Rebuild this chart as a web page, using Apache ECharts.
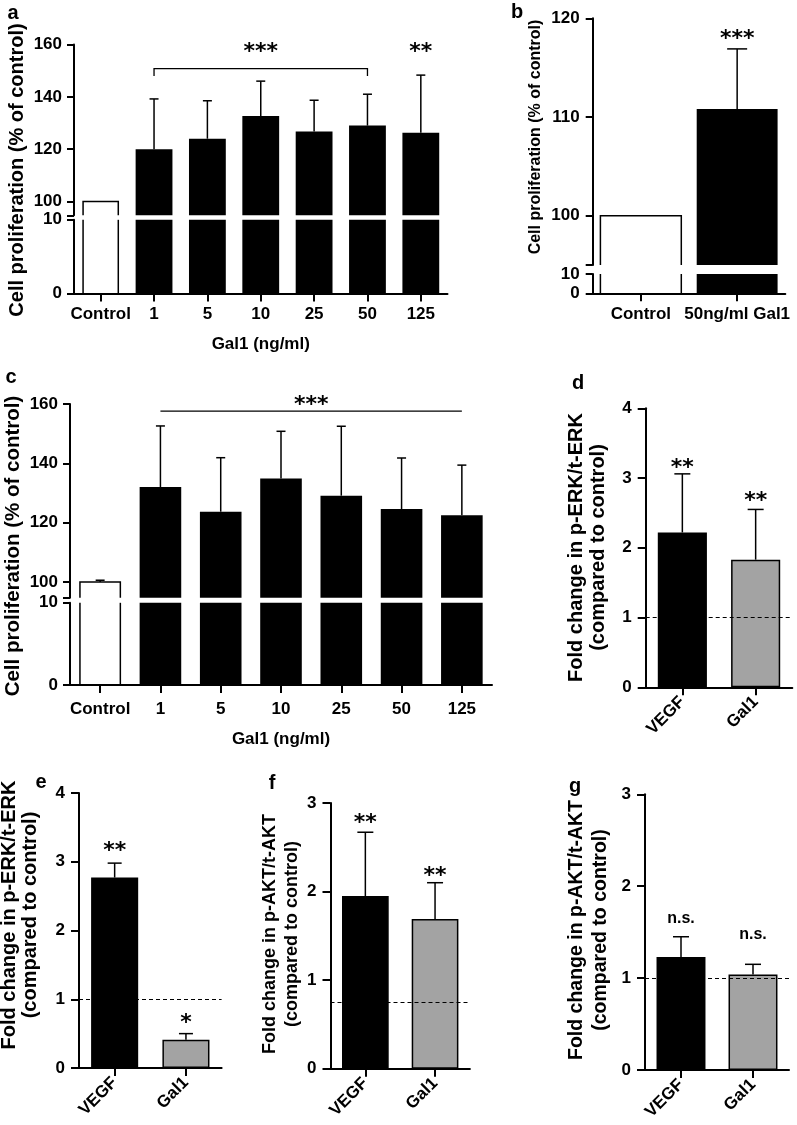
<!DOCTYPE html>
<html><head><meta charset="utf-8">
<script src="https://cdn.jsdelivr.net/npm/echarts@6/dist/echarts.min.js"></script>
<style>html,body{margin:0;padding:0;background:#fff}#c{width:797px;height:1125px}</style>
</head><body><div id="c"></div>
<script>
// ---------------- data ----------------
const doseCats = ['Control', '1', '5', '10', '25', '50', '125'];
const aMean = [100, 120.0, 124.0, 132.7, 126.8, 129.0, 126.3];
const aSem  = [0, 19.2, 14.5, 13.3, 11.9, 12.0, 22.0];
const bCats = ['Control', '50ng/ml Gal1'];
const bMean = [100, 110.8];
const bSem  = [0, 6.1];
const cMean = [100, 132.0, 123.7, 134.9, 129.1, 124.6, 122.5];
const cSem  = [0.6, 20.6, 18.2, 15.9, 23.4, 17.2, 16.9];
const fcCats = ['VEGF', 'Gal1'];
const dMean = [2.22, 1.83]; const dSem = [0.84, 0.72];
const eMean = [2.77, 0.41]; const eSem = [0.21, 0.09];
const fMean = [1.95, 1.69]; const fSem = [0.72, 0.41];
const gMean = [1.23, 1.04]; const gSem = [0.22, 0.11];
const dRef = 1, eRef = 1, fRef = 0.75, gRef = 1;
// tick labels
const aUpperTicks = [100, 120, 140, 160];
const bUpperTicks = [100, 110, 120];
const lowerTicks = [0, 10];
// significance annotations
const aBracket = [1, 5, 150.8, 158.7];      // from cat, to cat, bracket level, label level
const aBracketText = '***';
const aSigCats = [6], aSigY = [158.5], aSigText = ['**'];
const bSigCats = [1], bSigY = [118.3], bSigText = ['***'];
const cBracket = [1, 6, 157.6, 161.0];
const cBracketText = '***';
const dSigCats = [0, 1], dSigY = [3.20, 2.72], dSigText = ['**', '**'];
const eSigCats = [0, 1], eSigY = [3.21, 0.71], eSigText = ['**', '*'];
const fSigCats = [0, 1], fSigY = [2.82, 2.22], fSigText = ['**', '**'];
const gSigCats = [0, 1], gSigY = [1.65, 1.47], gSigText = ['n.s.', 'n.s.'];

// ---------------- style helpers ----------------
const FONT = '"Liberation Sans", Arial, Helvetica, sans-serif';
const STAR_FONT = 'bold 22px "DejaVu Sans", "Liberation Sans", sans-serif';
const NS_FONT = 'bold 16px ' + FONT;
const STAR_DY = 4;
const GRAY = '#a3a3a3';
const LW = 2;

const grids = [
  {left: 74, top: 44.5, width: 373.5, height: 170.8},     // 0 a upper
  {left: 74, top: 219.8, width: 373.5, height: 73.7},     // 1 a lower
  {left: 592.7, top: 18.3, width: 192.6, height: 246.75}, // 2 b upper
  {left: 592.7, top: 274, width: 192.6, height: 19.3},    // 3 b lower
  {left: 70, top: 404, width: 422, height: 193.7},        // 4 c upper
  {left: 70, top: 602.8, width: 422, height: 82.2},       // 5 c lower
  {left: 645.7, top: 408.3, width: 146.6, height: 279},   // 6 d
  {left: 79, top: 793, width: 142.6, height: 275},        // 7 e
  {left: 330.5, top: 803, width: 139.4, height: 265.7},   // 8 f
  {left: 645, top: 794.3, width: 144, height: 275.7}      // 9 g
].map(g => Object.assign({containLabel: false}, g));

const lbl = (extra) => Object.assign({color: '#000', fontFamily: FONT, fontWeight: 'bold', fontSize: 17}, extra || {});

function xHidden(gi, cats) {
  return {type: 'category', gridIndex: gi, data: cats, boundaryGap: true, show: false};
}
function xShown(gi, cats, extra) {
  return Object.assign({
    type: 'category', gridIndex: gi, data: cats, boundaryGap: true,
    axisLine: {show: true, lineStyle: {color: '#000', width: LW}},
    axisTick: {show: true, alignWithLabel: true, length: 8, lineStyle: {color: '#000', width: LW}},
    axisLabel: lbl({margin: 12, interval: 0}),
    splitLine: {show: false}
  }, extra || {});
}
function yUpper(gi, min, max, ticks, margin) {
  return {
    type: 'value', gridIndex: gi, min: min, max: max,
    axisLine: {show: true, lineStyle: {color: '#000', width: LW}},
    axisTick: {show: true, length: 7, lineStyle: {color: '#000', width: LW}, customValues: [min].concat(ticks)},
    axisLabel: lbl({margin: margin, customValues: ticks}),
    splitLine: {show: false}
  };
}
function yLower(gi, margin) {
  return {
    type: 'value', gridIndex: gi, min: lowerTicks[0], max: lowerTicks[1], interval: lowerTicks[1],
    axisLine: {show: true, lineStyle: {color: '#000', width: LW}},
    axisTick: {show: true, length: 7, lineStyle: {color: '#000', width: LW}},
    axisLabel: lbl({margin: margin}),
    splitLine: {show: false}
  };
}
function yFold(gi, max) {
  return {
    type: 'value', gridIndex: gi, min: 0, max: max, interval: 1,
    axisLine: {show: true, lineStyle: {color: '#000', width: LW}},
    axisTick: {show: true, length: 8, lineStyle: {color: '#000', width: LW}},
    axisLabel: lbl({margin: 14}),
    splitLine: {show: false}
  };
}

// black bars (control excluded)
function blackBars(ai, cats, mean, width) {
  return {
    type: 'bar', xAxisIndex: ai, yAxisIndex: ai, barWidth: width, silent: true, z: 2,
    data: mean.map((v, i) => cats[i] === 'Control' ? '-' : v),
    itemStyle: {color: '#000'}
  };
}
// open white bar outline for the control (through the library scale)
function outlineBar(ai, cats, mean, ratio) {
  const data = [];
  cats.forEach((c, i) => { if (c === 'Control') data.push([i, mean[i]]); });
  return {
    type: 'custom', xAxisIndex: ai, yAxisIndex: ai, z: 3, silent: true, data: data,
    renderItem: (params, api) => {
      const cs = params.coordSys;
      const p = api.coord([api.value(0), api.value(1)]);
      const bw = api.size([1, 0])[0] * ratio;
      const x0 = p[0] - bw / 2, x1 = p[0] + bw / 2;
      const base = cs.y + cs.height;
      const style = {stroke: '#000', lineWidth: 1.5, fill: null};
      if (p[1] < cs.y) {
        return {type: 'group', children: [
          {type: 'line', shape: {x1: x0, y1: base, x2: x0, y2: cs.y}, style: style},
          {type: 'line', shape: {x1: x1, y1: base, x2: x1, y2: cs.y}, style: style}
        ]};
      }
      return {type: 'polyline', shape: {points: [[x0, base], [x0, p[1]], [x1, p[1]], [x1, base]]}, style: style};
    }
  };
}
function errBars(ai, mean, sem, capW) {
  const data = [];
  mean.forEach((v, i) => { if (sem[i] > 0) data.push([i, v, sem[i]]); });
  return {
    type: 'custom', xAxisIndex: ai, yAxisIndex: ai, z: 4, silent: true, data: data,
    renderItem: (params, api) => {
      const i = api.value(0), v = api.value(1), e = api.value(2);
      const p0 = api.coord([i, v]), p1 = api.coord([i, v + e]);
      const style = {stroke: '#000', lineWidth: 1.5};
      return {type: 'group', children: [
        {type: 'line', shape: {x1: p0[0], y1: p0[1], x2: p1[0], y2: p1[1]}, style: style},
        {type: 'line', shape: {x1: p1[0] - capW / 2, y1: p1[1], x2: p1[0] + capW / 2, y2: p1[1]}, style: style}
      ]};
    }
  };
}
function sigLabels(ai, cats, ys, texts, font, dy) {
  return {
    type: 'custom', xAxisIndex: ai, yAxisIndex: ai, z: 6, silent: true,
    data: cats.map((c, k) => [c, ys[k]]),
    renderItem: (params, api) => {
      const p = api.coord([api.value(0), api.value(1)]);
      return {type: 'text', style: {text: texts[params.dataIndex], x: p[0], y: p[1] + dy, font: font, fill: '#000', align: 'center', verticalAlign: 'middle'}};
    }
  };
}
function bracket(ai, br, text, dropPx) {
  return {
    type: 'custom', xAxisIndex: ai, yAxisIndex: ai, z: 6, silent: true,
    data: [br],
    renderItem: (params, api) => {
      const p0 = api.coord([api.value(0), api.value(2)]);
      const p1 = api.coord([api.value(1), api.value(2)]);
      const pt = api.coord([api.value(0), api.value(3)]);
      const pts = dropPx ? [[p0[0], p0[1] + dropPx], [p0[0], p0[1]], [p1[0], p1[1]], [p1[0], p1[1] + dropPx]]
                         : [[p0[0], p0[1]], [p1[0], p1[1]]];
      return {type: 'group', children: [
        {type: 'polyline', shape: {points: pts}, style: {stroke: '#000', lineWidth: 1.3, fill: null}},
        {type: 'text', style: {text: text, x: (p0[0] + p1[0]) / 2, y: pt[1] + STAR_DY, font: STAR_FONT, fill: '#000', align: 'center', verticalAlign: 'middle'}}
      ]};
    }
  };
}
function foldBars(ai, mean, refVal, width) {
  return {
    type: 'bar', xAxisIndex: ai, yAxisIndex: ai, barWidth: width, silent: true, z: 2,
    data: mean,
    itemStyle: {color: (p) => p.dataIndex === 0 ? '#000' : GRAY, borderColor: '#000', borderWidth: 1.5},
    markLine: {
      silent: true, symbol: ['none', 'none'], label: {show: false}, z: 5,
      lineStyle: {color: '#000', type: [4, 3], width: 1},
      data: [{yAxis: refVal}]
    }
  };
}

const xAxes = [
  xHidden(0, doseCats),
  xShown(1, doseCats, {name: 'Gal1 (ng/ml)', nameLocation: 'middle', nameGap: 42, nameTextStyle: lbl()}),
  xHidden(2, bCats),
  xShown(3, bCats, {axisLabel: lbl({margin: 13, interval: 0})}),
  xHidden(4, doseCats),
  xShown(5, doseCats, {axisLabel: lbl({margin: 16, interval: 0}), name: 'Gal1 (ng/ml)', nameLocation: 'middle', nameGap: 46, nameTextStyle: lbl()}),
  xShown(6, fcCats, {axisLabel: lbl({margin: 12, rotate: 45, interval: 0})}),
  xShown(7, fcCats, {axisLabel: lbl({margin: 12, rotate: 45, interval: 0})}),
  xShown(8, fcCats, {axisLabel: lbl({margin: 12, rotate: 45, interval: 0})}),
  xShown(9, fcCats, {axisLabel: lbl({margin: 12, rotate: 45, interval: 0})})
];
const yAxes = [
  yUpper(0, 94.73, 160, aUpperTicks, 12),
  yLower(1, 12),
  yUpper(2, 95, 120, bUpperTicks, 13),
  yLower(3, 13),
  yUpper(4, 94.71, 160, aUpperTicks, 12),
  yLower(5, 12),
  yFold(6, 4), yFold(7, 4), yFold(8, 3), yFold(9, 3)
];

const series = [
  // a
  blackBars(0, doseCats, aMean, '69%'), blackBars(1, doseCats, aMean, '69%'),
  outlineBar(0, doseCats, aMean, 0.66), outlineBar(1, doseCats, aMean, 0.66),
  errBars(0, aMean, aSem, 9),
  bracket(0, aBracket, aBracketText, 7.5),
  sigLabels(0, aSigCats, aSigY, aSigText, STAR_FONT, STAR_DY),
  // b
  blackBars(2, bCats, bMean, '84%'), blackBars(3, bCats, bMean, '84%'),
  outlineBar(2, bCats, bMean, 0.84), outlineBar(3, bCats, bMean, 0.84),
  errBars(2, bMean, bSem, 20),
  sigLabels(2, bSigCats, bSigY, bSigText, STAR_FONT, STAR_DY),
  // c
  blackBars(4, doseCats, cMean, '69%'), blackBars(5, doseCats, cMean, '69%'),
  outlineBar(4, doseCats, cMean, 0.67), outlineBar(5, doseCats, cMean, 0.67),
  errBars(4, cMean, cSem, 9),
  bracket(4, cBracket, cBracketText, 0),
  // d-g
  foldBars(6, dMean, dRef, '67%'), errBars(6, dMean, dSem, 16), sigLabels(6, dSigCats, dSigY, dSigText, STAR_FONT, STAR_DY),
  foldBars(7, eMean, eRef, '66%'), errBars(7, eMean, eSem, 14), sigLabels(7, eSigCats, eSigY, eSigText, STAR_FONT, STAR_DY),
  foldBars(8, fMean, fRef, '67%'), errBars(8, fMean, fSem, 16), sigLabels(8, fSigCats, fSigY, fSigText, STAR_FONT, STAR_DY),
  foldBars(9, gMean, gRef, '68%'), errBars(9, gMean, gSem, 16), sigLabels(9, gSigCats, gSigY, gSigText, NS_FONT, 0)
];

function vtext(x, y, text, size, lh) {
  return {type: 'text', x: x, y: y, rotation: Math.PI / 2, silent: true,
    style: {text: text, fontFamily: FONT, fontWeight: 'bold', fontSize: size, lineHeight: lh || size, fill: '#000', align: 'center', verticalAlign: 'middle'}};
}
function letter(x, y, t) {
  return {type: 'text', x: x, y: y, silent: true,
    style: {text: t, fontFamily: FONT, fontWeight: 'bold', fontSize: 20, fill: '#000', align: 'center', verticalAlign: 'middle'}};
}
const graphic = [
  vtext(17, 170, 'Cell proliferation (% of control)', 20),
  vtext(536, 137, 'Cell proliferation (% of control)', 16),
  vtext(13, 546, 'Cell proliferation (% of control)', 20.5),
  vtext(587.5, 547.5, 'Fold change in p-ERK/t-ERK\n(compared to control)', 20, 22),
  vtext(19.5, 915, 'Fold change in p-ERK/t-ERK\n(compared to control)', 20, 21),
  vtext(281, 934, 'Fold change in p-AKT/t-AKT\n(compared to control)', 18, 22),
  vtext(589, 930, 'Fold change in p-AKT/t-AKT\n(compared to control)', 19.5, 24),
  letter(13, 13, 'a'), letter(517, 12, 'b'), letter(11, 377, 'c'), letter(578, 383, 'd'),
  letter(41, 782, 'e'), letter(272, 783, 'f'), letter(575, 786, 'g')
];

const chart = echarts.init(document.getElementById('c'), null, {renderer: 'canvas'});
chart.setOption({
  animation: false,
  backgroundColor: '#fff',
  grid: grids,
  xAxis: xAxes,
  yAxis: yAxes,
  series: series,
  graphic: graphic
});
</script>
</body></html>
